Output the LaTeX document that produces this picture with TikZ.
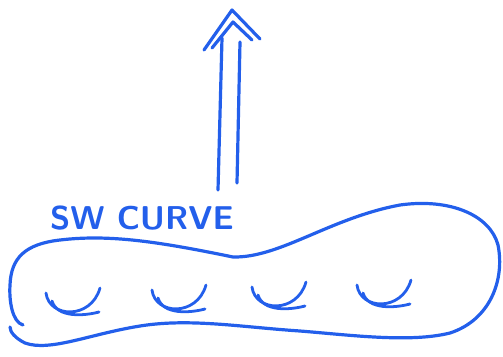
\documentclass[tikz,border=0pt]{standalone}
\usepackage{tikz}
\usetikzlibrary{calc}
\definecolor{marker}{RGB}{35,95,235}

\begin{document}
\begin{tikzpicture}[x=1pt, y=-1pt, line cap=round, line join=round,
  pen/.style={draw=marker, line width=3.2pt},
  handle/.style={draw=marker, line width=2.8pt}]

\useasboundingbox (0,0) rectangle (503,356);

% Поверхность (контур)
\draw[pen] (23,325) .. controls (12,322) and (9,300) .. (10,285)
  .. controls (11,258) and (25,244) .. (60,240)
  .. controls (110,234) and (160,242) .. (233,257)
  .. controls (280,258) and (330,218) .. (400,205)
  .. controls (450,198) and (490,215) .. (498,245)
  .. controls (505,280) and (490,320) .. (450,333)
  .. controls (410,343) and (350,335) .. (300,331)
  .. controls (240,327) and (190,318) .. (140,326)
  .. controls (90,334) and (50,352) .. (25,343)
  .. controls (15,338) and (10,332) .. (10,327);

% Ручки
\foreach \cx/\cy in {72/303, 178/300, 278/297, 383/295} {
  \draw[handle] (\cx-26,\cy-10) .. controls (\cx-23,\cy+15) and (\cx+19,\cy+17) .. (\cx+28,\cy-15);
  \draw[handle] (\cx-20,\cy-2) .. controls (\cx-15,\cy+15) and (\cx+12,\cy+13) .. (\cx+27,\cy+9);
}

% Надпись
\node[text=marker, font=\sffamily\bfseries\fontsize{33}{36}\selectfont] (label) at (142,218) {SW CURVE};

% Стрелка
\coordinate (shaftL) at (218,190);
\coordinate (shaftR) at (237,183);
\coordinate (topL) at (222,38);
\coordinate (topR) at (240,42);
\coordinate (tip) at (232,10);
\coordinate (wingL) at (204,50);
\coordinate (wingR) at (260,39);
\draw[pen] (shaftL) -- (topL);
\draw[pen] (shaftR) -- (topR);
\draw[pen] (wingL) -- (tip) -- (wingR);
\draw[pen] ($(wingL)+(8,-2)$) -- ($(tip)+(1,12)$) -- ($(wingR)+(-8,1)$);

\end{tikzpicture}
\end{document}
